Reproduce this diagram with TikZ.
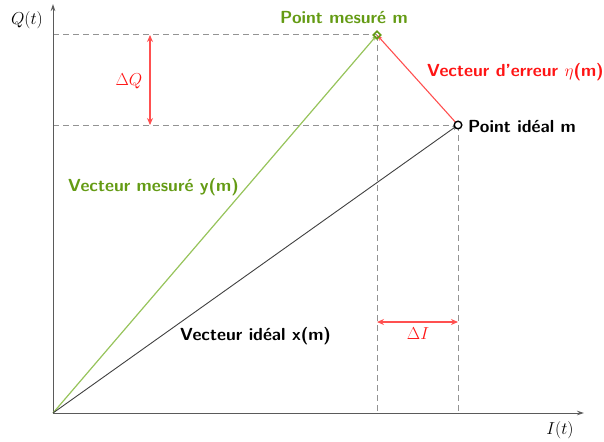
\documentclass[tikz,border=0pt]{standalone}
\usetikzlibrary{arrows.meta,calc}
\definecolor{mgreen}{RGB}{100,155,20}
\definecolor{lgreen}{RGB}{150,195,90}
\definecolor{mred}{RGB}{255,20,20}
\definecolor{lred}{RGB}{255,80,80}
\definecolor{axgray}{RGB}{90,90,90}
\begin{document}
\begin{tikzpicture}[x=1pt,y=-1pt,
  lbl/.style={font=\fontsize{17.5}{20}\selectfont\sffamily\bfseries, inner sep=1pt},
  mth/.style={font=\fontsize{16.5}{19}\selectfont, inner sep=1pt},
  axis/.style={draw=axgray, line width=1pt, -{Stealth[length=7pt,width=4.5pt]}},
  guide/.style={draw=gray!85, dash pattern=on 6pt off 4pt, line width=1pt},
  delta/.style={draw=lred, line width=1.2pt, {Stealth[length=7pt,width=6pt]}-{Stealth[length=7pt,width=6pt]}},
  vec/.style={line width=0.9pt}]
\useasboundingbox (0,0) rectangle (604,441);
\coordinate (O) at (53,413);
\coordinate (ytop) at (53,4);
\coordinate (xend) at (584,413);
\coordinate (M) at (377,35);
\coordinate (P) at (458,125);
\coordinate (Mh) at (53,35);
\coordinate (Ph) at (53,125);
\coordinate (Mv) at (377,413);
\coordinate (Pv) at (458,413);
% guides
\draw[guide] (Mh) -- (M);
\draw[guide] (Ph) -- (P);
\draw[guide] (M) -- (Mv);
\draw[guide] (P) -- (Pv);
% axes
\draw[axis] (O) -- (ytop);
\draw[axis] (O) -- (xend);
\node[mth, anchor=east] (Qlab) at (44,20) {$Q(t)$};
\node[mth] (Ilab) at (560,430) {$I(t)$};
% vectors
\draw[vec, draw=lgreen, line width=1.2pt, -{Stealth[length=6pt,width=4pt]}] (O) -- (M);
\draw[vec, draw=black!75, -{Stealth[length=6pt,width=4pt]}] (O) -- (P);
\draw[vec, draw=lred, line width=1.1pt, -{Stealth[length=6pt,width=4pt]}] (P) -- (M);
% points
\draw[mgreen, line width=1.5pt] ($(M)+(0,-3.8)$) -- ($(M)+(3.8,0)$) -- ($(M)+(0,3.8)$) -- ($(M)+(-3.8,0)$) -- cycle;
\draw[black, line width=1.4pt, fill=white] (P) circle (3.8);
% deltas
\coordinate (dq1) at (150,35);
\coordinate (dq2) at (150,125);
\draw[delta] (dq1) -- (dq2);
\node[mth, text=mred] (dQ) at (129,81) {$\Delta Q$};
\coordinate (di1) at (377,322);
\coordinate (di2) at (458,322);
\draw[delta] (di1) -- (di2);
\node[mth, text=mred] (dI) at (418,334) {$\Delta I$};
% labels
\node[lbl, text=mgreen] (lm) at (344,18) {Point mesuré m};
\node[lbl, text=mred, anchor=west] (le) at (426,72) {Vecteur d'erreur $\eta$(m)};
\node[lbl, anchor=west] (lp) at (467,127) {Point idéal m};
\node[lbl, text=mgreen, anchor=west] (ly) at (67,187) {Vecteur mesuré y(m)};
\node[lbl, anchor=west] (lx) at (179,336) {Vecteur idéal x(m)};
\end{tikzpicture}
\end{document}
